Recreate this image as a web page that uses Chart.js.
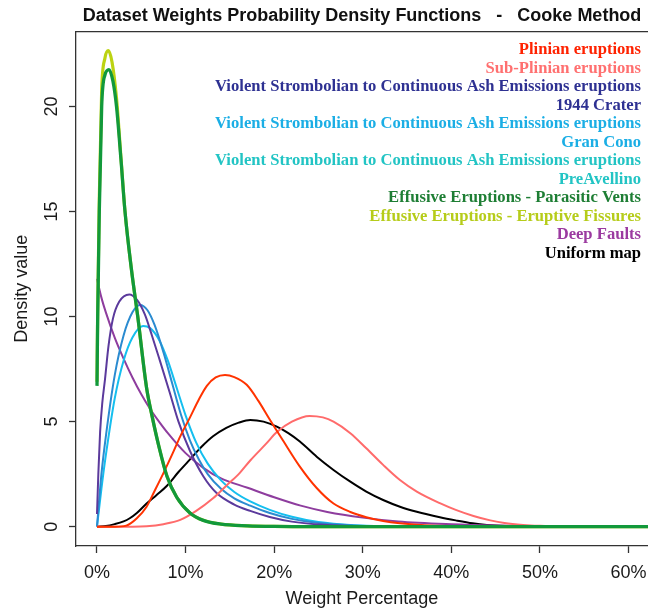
<!DOCTYPE html>
<html><head><meta charset="utf-8">
<script src="https://cdn.jsdelivr.net/npm/chart.js@4.4.0/dist/chart.umd.min.js"></script>
<style>html,body{margin:0;padding:0;background:#fff;overflow:hidden}</style>
</head><body>
<canvas id="c" width="648" height="613"></canvas>
<script>
// ---- tick labels ----
const xTickValues = [0, 10, 20, 30, 40, 50, 60];
const yTickValues = [0, 5, 10, 15, 20];

// ---- series names ----
const seriesNames = [
  "Plinian eruptions",
  "Sub-Plinian eruptions",
  "Violent Strombolian to Continuous Ash Emissions eruptions - 1944 Crater",
  "Violent Strombolian to Continuous Ash Emissions eruptions - Gran Cono",
  "Violent Strombolian to Continuous Ash Emissions eruptions - PreAvellino",
  "Effusive Eruptions - Parasitic Vents",
  "Effusive Eruptions - Eruptive Fissures",
  "Deep Faults",
  "Uniform map"
];
const legendLines = [
  "Plinian eruptions",
  "Sub-Plinian eruptions",
  "Violent Strombolian to Continuous Ash Emissions eruptions",
  "1944 Crater",
  "Violent Strombolian to Continuous Ash Emissions eruptions",
  "Gran Cono",
  "Violent Strombolian to Continuous Ash Emissions eruptions",
  "PreAvellino",
  "Effusive Eruptions - Parasitic Vents",
  "Effusive Eruptions - Eruptive Fissures",
  "Deep Faults",
  "Uniform map"
];

// ---- series values: [weight %, density] ----
const plinian = [[0,0],[2,0],[3.3,0.05],[4.5,0.4],[5.6,0.95],[6.5,1.7],[7.5,2.55],[8.5,3.45],[9.4,4.3],[10.5,5.2],[11.5,6.05],[12.4,6.7],[13.4,7.1],[14.45,7.22],[15.5,7.12],[16.9,6.75],[18.2,6.0],[19.5,5.1],[21,4.1],[22.9,2.86],[24.8,1.84],[26.7,1.1],[28.6,0.7],[30.4,0.45],[32.3,0.27],[34.2,0.16],[37,0.07],[40,0.03],[45,0.005],[50,0],[62.2,0]];
const subPlinian = [[0,0],[4,0],[5.6,0.02],[7.5,0.12],[9.4,0.32],[11.2,0.75],[13.1,1.35],[14.6,1.95],[16.1,2.55],[17.3,3.15],[19.1,3.95],[20.3,4.5],[22,5.0],[24,5.27],[25.5,5.2],[26.7,5.0],[28.6,4.45],[30.4,3.73],[32.3,2.94],[34.2,2.22],[36.1,1.67],[38.7,1.12],[40.5,0.8],[42.5,0.51],[44.4,0.3],[46,0.17],[48.1,0.08],[50,0.04],[53,0.01],[56,0],[62.2,0]];
const crater1944 = [[0,0.6],[0.15,2.5],[0.35,4.5],[0.6,5.9],[0.9,7.0],[1.3,8.6],[1.8,9.9],[2.5,10.7],[3.65,11.05],[4.5,10.8],[5.4,10.1],[6.2,9.1],[7.1,7.9],[8.2,6.4],[9.2,5.0],[10.5,3.6],[12,2.4],[13.5,1.6],[15.5,1.05],[17.3,0.75],[19.5,0.46],[22,0.24],[25,0.1],[29,0.03],[33,0],[62.2,0]];
const granCono = [[0,0],[0.5,2.5],[1,4.3],[2,7.2],[3,9.1],[4,10.2],[4.85,10.55],[5.7,10.3],[6.5,9.6],[7.5,8.3],[8.5,6.8],[9.5,5.3],[10.5,4.1],[11.5,3.2],[12.5,2.5],[14,1.8],[15.5,1.35],[17.3,1.0],[19.5,0.65],[22,0.37],[25,0.17],[29,0.06],[33,0.02],[38,0],[62.2,0]];
const preAvellino = [[0,0],[0.5,1.8],[1,3.4],[2,6.1],[3,7.9],[4,9.0],[5.2,9.55],[6,9.45],[7,8.9],[8,7.9],[9,6.6],[10,5.3],[11.2,4.0],[12.5,3.0],[14,2.2],[15.5,1.65],[17.3,1.2],[19.5,0.8],[22,0.47],[25,0.22],[29,0.07],[33,0.02],[38,0],[62.2,0]];
const parasiticVents = [[0,6.7],[0.08,10],[0.26,15],[0.53,20],[0.9,21.5],[1.35,21.75],[1.8,21.2],[2.2,20],[2.7,17.5],[3.16,15],[3.9,12.2],[4.6,10],[5.6,6.6],[6.2,5.3],[7,3.8],[7.9,2.4],[9,1.4],[10.5,0.65],[12,0.3],[14,0.12],[17,0.04],[20,0.01],[25,0],[62.2,0]];
const eruptiveFissures = [[0,6.9],[0.08,10.4],[0.26,15.6],[0.53,20.8],[0.9,22.3],[1.28,22.65],[1.7,22.1],[2.2,20.4],[2.7,17.6],[3.16,15],[3.9,12.2],[4.6,10],[5.6,6.6],[6.2,5.3],[7,3.8],[7.9,2.4],[9,1.4],[10.5,0.65],[12,0.3],[14,0.12],[17,0.04],[20,0.01],[25,0],[62.2,0]];
const deepFaults = [[0,11.8],[0.5,10.9],[1,10.2],[2,9.0],[3,8.0],[4,7.1],[5,6.3],[6,5.6],[7,5.0],[8,4.45],[10,3.5],[12,2.8],[14,2.3],[17,1.85],[20,1.4],[23,1.0],[26,0.7],[30,0.43],[34,0.25],[40,0.12],[45,0.06],[50,0.03],[55,0.01],[62.2,0]];
const uniformMap = [[0,0],[1,0.03],[2,0.12],[3,0.25],[3.7,0.4],[4.5,0.65],[5.6,1.1],[6.7,1.5],[7.9,1.95],[9.2,2.6],[10.5,3.2],[11.8,3.8],[13.1,4.3],[14.6,4.7],[16,4.95],[17.3,5.08],[18.8,5.0],[20.3,4.76],[21.6,4.45],[22.9,4.05],[24.8,3.33],[26.7,2.7],[28.6,2.14],[30.4,1.67],[32.3,1.27],[34.2,0.95],[36.1,0.71],[38.7,0.45],[40.5,0.3],[42.4,0.16],[44,0.08],[46.2,0.03],[50,0],[62.2,0]];

const seriesData = [plinian, subPlinian, crater1944, granCono, preAvellino, parasiticVents, eruptiveFissures, deepFaults, uniformMap];

// ---- styles ----
const lineColors = ["#ff3300", "#ff6b6b", "#5b3a9c", "#2b8bd0", "#15bfef", "#12993b", "#bcd312", "#8e3d9e", "#000000"];
const lineWidths = [2, 2, 2, 2, 2, 3.3, 3.2, 2, 2];
const lineOrders = [0, 0, 0, 0, 0, -1, 0, 0, 0];
const legendColors = ["#ff2200", "#ff7070", "#2e3192", "#2e3192", "#1baee5", "#1baee5", "#22c4c4", "#22c4c4", "#1e7e34", "#b6cc1a", "#9b3aa0", "#000000"];

const datasets = seriesData.map((s, i) => ({
  label: seriesNames[i],
  data: s.map(p => ({x: p[0], y: p[1]})),
  borderColor: lineColors[i],
  backgroundColor: lineColors[i],
  borderWidth: lineWidths[i],
  pointRadius: 0,
  fill: false,
  cubicInterpolationMode: 'monotone',
  order: lineOrders[i]
}));

const axisColor = '#333';
const textColor = '#1a1a1a';
const sansFont = "'Liberation Sans', Arial, sans-serif";

const topBorder = {
  id: 'topBorder',
  afterDraw(chart) {
    const {ctx, chartArea} = chart;
    ctx.save();
    ctx.strokeStyle = axisColor;
    ctx.lineWidth = 1.3;
    ctx.beginPath();
    ctx.moveTo(chartArea.left, chartArea.top);
    ctx.lineTo(chartArea.right, chartArea.top);
    ctx.stroke();
    ctx.restore();
  }
};

const textLegend = {
  id: 'textLegend',
  afterDraw(chart) {
    const ctx = chart.ctx;
    ctx.save();
    ctx.font = "bold 16.6px 'Liberation Serif', 'Times New Roman', serif";
    ctx.textAlign = 'right';
    ctx.textBaseline = 'middle';
    legendLines.forEach((t, i) => {
      ctx.fillStyle = legendColors[i];
      ctx.fillText(t, 641, 50 + i * 18.5);
    });
    ctx.restore();
  }
};

new Chart(document.getElementById('c'), {
  type: 'line',
  data: {datasets},
  options: {
    responsive: false,
    animation: false,
    devicePixelRatio: 1,
    layout: {padding: 0},
    plugins: {
      legend: {display: false},
      tooltip: {enabled: false},
      title: {
        display: true,
        fullSize: false,
        text: 'Dataset Weights Probability Density Functions   -   Cooke Method',
        color: '#111',
        font: {family: sansFont, size: 18, weight: 'bold', lineHeight: 1.2},
        padding: {top: 5, bottom: 5}
      }
    },
    scales: {
      x: {
        type: 'linear',
        position: 'bottom',
        min: -2.37,
        max: 62.2,
        afterBuildTicks: s => { s.ticks = xTickValues.map(v => ({value: v})); },
        afterFit: s => { s.height = 67; s.paddingRight = 0; s.paddingLeft = 0; },
        grid: {display: true, drawOnChartArea: false, drawTicks: true, tickLength: 7, tickColor: axisColor, tickWidth: 1.3},
        border: {display: true, color: axisColor, width: 1.3},
        ticks: {
          autoSkip: false, maxRotation: 0, padding: 9, color: textColor,
          font: {family: sansFont, size: 18, lineHeight: 1.2},
          callback: v => v + '%'
        },
        title: {display: true, text: 'Weight Percentage', color: textColor, font: {family: sansFont, size: 18, lineHeight: 1.2}, padding: {top: 0, bottom: 3}}
      },
      y: {
        type: 'linear',
        min: -0.92,
        max: 23.56,
        afterBuildTicks: s => { s.ticks = yTickValues.map(v => ({value: v})); },
        afterFit: s => { s.width = 76; s.paddingTop = 0; s.paddingBottom = 0; },
        grid: {display: true, drawOnChartArea: false, drawTicks: true, tickLength: 7, tickColor: axisColor, tickWidth: 1.3},
        border: {display: true, color: axisColor, width: 1.3},
        ticks: {
          autoSkip: false, minRotation: 90, maxRotation: 90, crossAlign: 'center', padding: 6.5, color: textColor,
          font: {family: sansFont, size: 18, lineHeight: 1.2}
        },
        title: {display: true, text: 'Density value', color: textColor, font: {family: sansFont, size: 18, lineHeight: 1.2}, padding: {top: 11, bottom: 0}}
      }
    }
  },
  plugins: [topBorder, textLegend]
});
</script>
</body></html>
